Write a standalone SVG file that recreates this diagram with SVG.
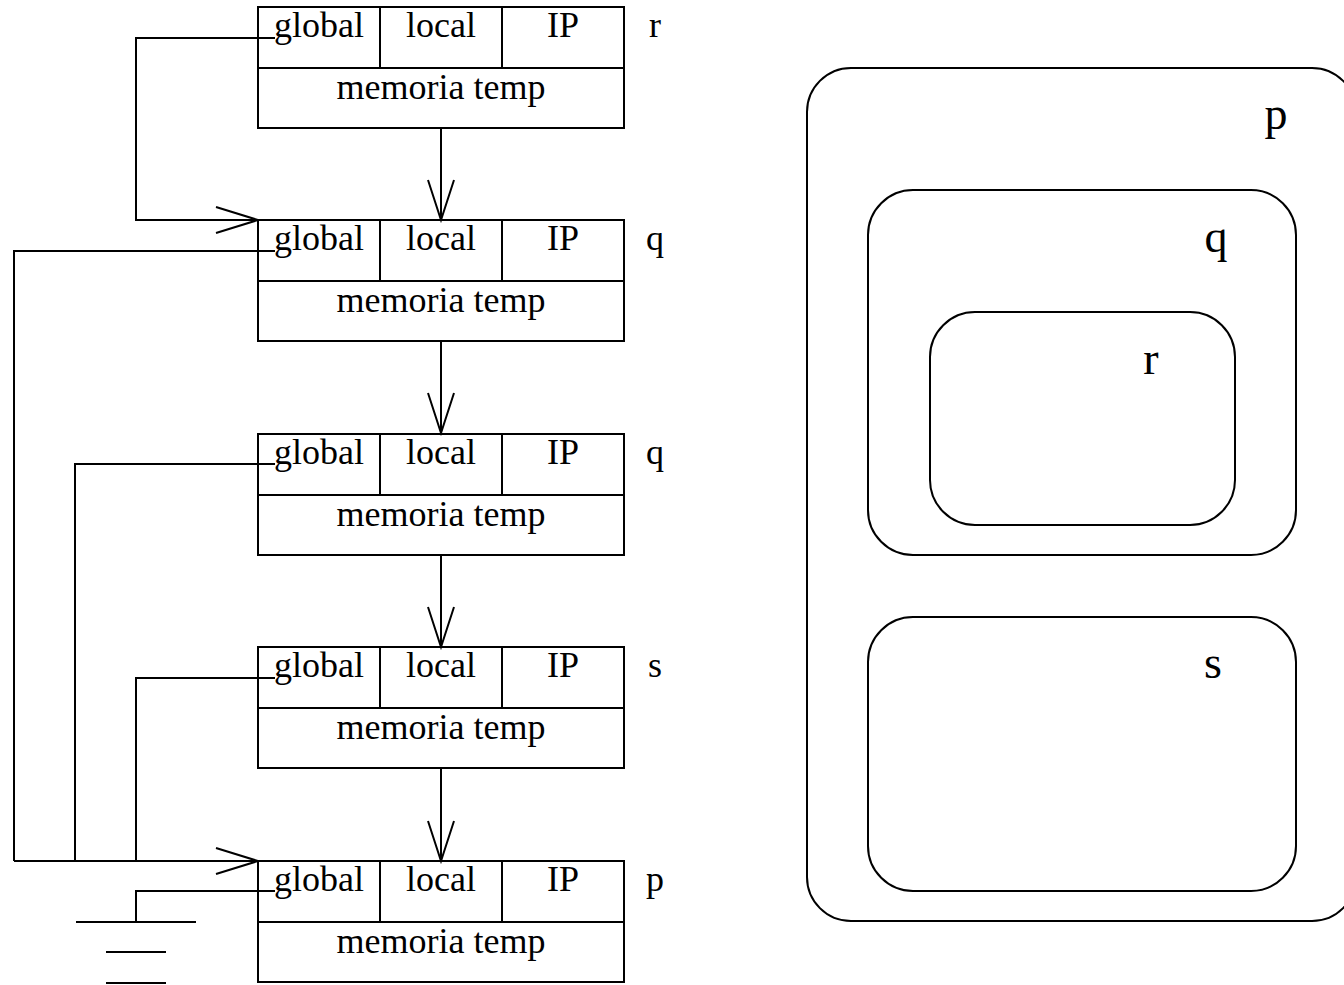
<svg xmlns="http://www.w3.org/2000/svg" width="1344" height="985" viewBox="0 0 1344 985">
<style>
.b{fill:none;stroke:#000;stroke-width:2}
.c{fill:none;stroke:#000;stroke-width:2}
.t{font-family:"Liberation Serif","Times New Roman",serif;font-size:36px;fill:#000;text-anchor:middle}
.L{font-family:"Liberation Serif","Times New Roman",serif;font-size:46px;fill:#000;text-anchor:middle}
</style>
<defs>
<g id="blk">
<rect class="b" x="258" y="0" width="366" height="121"/>
<line class="b" x1="258" y1="61" x2="624" y2="61"/>
<line class="b" x1="380" y1="0" x2="380" y2="61"/>
<line class="b" x1="502" y1="0" x2="502" y2="61"/>
<text class="t" x="319" y="30">global</text>
<text class="t" x="441" y="30">local</text>
<text class="t" x="563" y="30">IP</text>
<text class="t" x="441" y="92">memoria temp</text>
</g>
</defs>
<rect width="1344" height="985" fill="#fff"/>
<g id="frame-r"><use href="#blk" y="7"/><text class="t" x="655" y="37">r</text></g>
<g id="frame-q1"><use href="#blk" y="220"/><text class="t" x="655" y="250">q</text></g>
<g id="frame-q2"><use href="#blk" y="434"/><text class="t" x="655" y="464">q</text></g>
<g id="frame-s"><use href="#blk" y="647"/><text class="t" x="655" y="677">s</text></g>
<g id="frame-p"><use href="#blk" y="861"/><text class="t" x="655" y="891">p</text></g>
<g id="connectors">
<path class="c" d="M441 128V220M428 180L441 220L454 180"/>
<path class="c" d="M441 342V433M428 393L441 433L454 393"/>
<path class="c" d="M441 555V647M428 607L441 647L454 607"/>
<path class="c" d="M441 769V861M428 821L441 861L454 821"/>
<path class="c" d="M275 38H136V220H258M216 207L258 220L216 233"/>
<path class="c" d="M275 251H14V861"/>
<path class="c" d="M275 464H75V861"/>
<path class="c" d="M275 678H136V861"/>
<path class="c" d="M14 861H258M216 848L258 861L216 874"/>
<path class="c" d="M275 891H136V922"/>
<path class="c" d="M76 922H196M106 952H166M106 983H166"/>
</g>
<g id="scope-p"><rect class="b" x="807" y="68" width="549" height="853" rx="44"/><text class="L" x="1276" y="129">p</text></g>
<g id="scope-q"><rect class="b" x="868" y="190" width="428" height="365" rx="45"/><text class="L" x="1216" y="252">q</text></g>
<g id="scope-r"><rect class="b" x="930" y="312" width="305" height="213" rx="45"/><text class="L" x="1151" y="374">r</text></g>
<g id="scope-s"><rect class="b" x="868" y="617" width="428" height="274" rx="45"/><text class="L" x="1213" y="678">s</text></g>
</svg>
